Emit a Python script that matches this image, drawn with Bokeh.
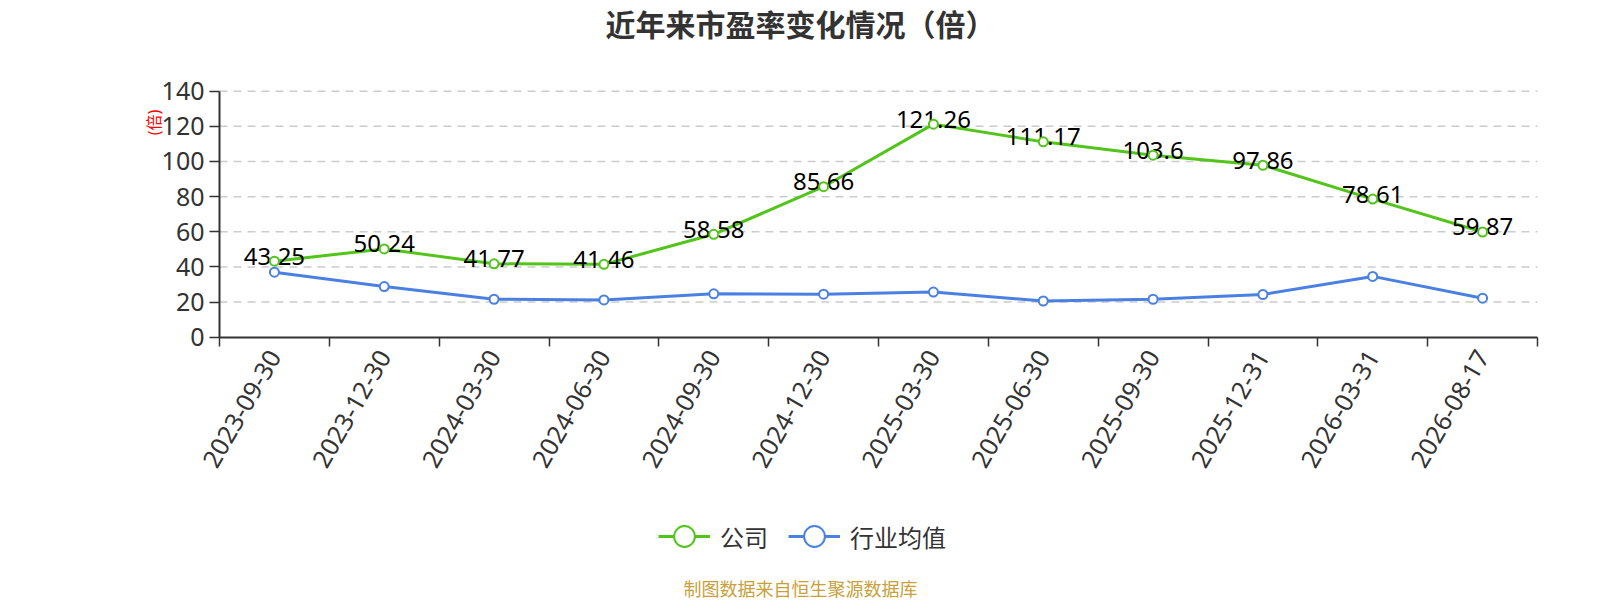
import math
from bokeh.plotting import figure
from bokeh.models import Range1d, FixedTicker, Label, Legend, LegendItem
from bokeh.core.properties import value
from bokeh.embed import file_html
from bokeh.resources import INLINE

# ---- data ----
dates = ["2023-09-30", "2023-12-30", "2024-03-30", "2024-06-30", "2024-09-30", "2024-12-30",
         "2025-03-30", "2025-06-30", "2025-09-30", "2025-12-31", "2026-03-31", "2026-08-17"]
company_pe = [43.25, 50.24, 41.77, 41.46, 58.58, 85.66, 121.26, 111.17, 103.6, 97.86, 78.61, 59.87]
industry_pe = [37.0, 28.8, 21.6, 21.2, 24.7, 24.5, 25.7, 20.6, 21.6, 24.3, 34.6, 22.2]
y_ticks = [0, 20, 40, 60, 80, 100, 120, 140]
series_names = ["公司", "行业均值"]
title_text = "近年来市盈率变化情况（倍）"
unit_text = "(倍)"
source_text = "制图数据来自恒生聚源数据库"

# ---- styles / layout ----
FONT = "Noto Sans, Noto Sans CJK SC"
GREEN = "#52c41a"
BLUE = "#4a80e2"
AXIS = "#333333"
W, H = 1600, 600
PLOT_L, PLOT_R, PLOT_T, PLOT_B = 219.0, 1537.0, 90.7, 336.7   # pixel box of the chart area

n = len(dates)
xs = [i + 0.5 for i in range(n)]
bounds = list(range(n + 1))
y0, y1 = y_ticks[0], y_ticks[-1]

# ranges chosen so the data box lands on the pixel box above (frame = whole canvas)
kx = (PLOT_R - PLOT_L) / n
ky = (PLOT_B - PLOT_T) / (y1 - y0)
x_range = Range1d(-PLOT_L / kx, n + (W - PLOT_R) / kx)
y_range = Range1d(y0 - (H - PLOT_B) / ky, y1 + PLOT_T / ky)

p = figure(width=W, height=H, output_backend="svg", toolbar_location=None,
           x_range=x_range, y_range=y_range,
           min_border_left=0, min_border_right=0, min_border_top=0, min_border_bottom=0)
p.outline_line_color = None
p.background_fill_color = "white"
p.border_fill_color = "white"

# horizontal dashed grid lines, limited to the chart area
p.xgrid.visible = False
p.ygrid.visible = False
grid_y = y_ticks[1:]
p.segment(x0=[0] * len(grid_y), x1=[n] * len(grid_y), y0=grid_y, y1=grid_y,
          line_color="#cccccc", line_width=1.5, line_dash="8 6", level="underlay")

# y axis
ya = p.yaxis[0]
ya.fixed_location = 0
ya.bounds = (y0, y1)
ya.ticker = FixedTicker(ticks=y_ticks)
ya.axis_line_color = AXIS
ya.axis_line_width = 2
ya.major_tick_line_color = AXIS
ya.major_tick_line_width = 1.5
ya.major_tick_out = 10
ya.major_tick_in = 0
ya.minor_tick_out = 0
ya.minor_tick_in = 0
ya.major_label_standoff = 5
ya.major_label_text_font = FONT
ya.major_label_text_font_size = "25px"
ya.major_label_text_color = AXIS

# x axis
xa = p.xaxis[0]
xa.fixed_location = y0
xa.bounds = (0, n)
xa.ticker = FixedTicker(ticks=xs, minor_ticks=bounds)
xa.major_label_overrides = {x: d for x, d in zip(xs, dates)}
xa.axis_line_color = AXIS
xa.axis_line_width = 2
xa.major_tick_out = 0
xa.major_tick_in = 0
xa.minor_tick_out = 9
xa.minor_tick_in = 0
xa.minor_tick_line_color = AXIS
xa.minor_tick_line_width = 1.5
xa.major_label_orientation = math.pi / 3
xa.major_label_standoff = 6
xa.major_label_text_baseline = "alphabetic"
xa.major_label_text_font = FONT
xa.major_label_text_font_size = "25px"
xa.major_label_text_color = AXIS

# series
g_line = p.line(xs, company_pe, line_color=GREEN, line_width=3)
b_line = p.line(xs, industry_pe, line_color=BLUE, line_width=3)

p.text(x=xs, y=company_pe, text=[str(v) for v in company_pe],
       text_font=value(FONT), text_font_size=value("24px"), text_color="#000000",
       text_align="center", text_baseline="middle", y_offset=-5)

g_pts = p.scatter(xs, company_pe, marker="circle", size=9, fill_color="white",
                  line_color=GREEN, line_width=2)
b_pts = p.scatter(xs, industry_pe, marker="circle", size=9, fill_color="white",
                  line_color=BLUE, line_width=2)

legend = Legend(items=[LegendItem(label=series_names[0], renderers=[g_line, g_pts]),
                       LegendItem(label=series_names[1], renderers=[b_line, b_pts])],
                orientation="horizontal", location=(658, 37),
                glyph_width=52, glyph_height=54, label_standoff=10, spacing=20,
                padding=0, margin=0, border_line_color=None, background_fill_alpha=0,
                label_text_font=FONT, label_text_font_size="24px", label_text_color=AXIS)
p.add_layout(legend)

# texts (screen units: x from left edge, y from bottom edge of the canvas)
p.add_layout(Label(x=800, y=H - 23.5, x_units="screen", y_units="screen", text=title_text,
                   text_font=FONT, text_font_size="30px", text_font_style="bold",
                   text_color="#333333", text_align="center", text_baseline="middle"))
p.add_layout(Label(x=153, y=H - 122, x_units="screen", y_units="screen", text=unit_text,
                   angle=math.pi / 2, text_font=FONT, text_font_size="16px",
                   text_color="#ff0000", text_align="center", text_baseline="middle"))
p.add_layout(Label(x=800, y=H - 588.5, x_units="screen", y_units="screen", text=source_text,
                   text_font=FONT, text_font_size="18px", text_color="#c9a03a",
                   text_align="center", text_baseline="middle"))

open("out.html", "w").write(file_html(p, INLINE))
